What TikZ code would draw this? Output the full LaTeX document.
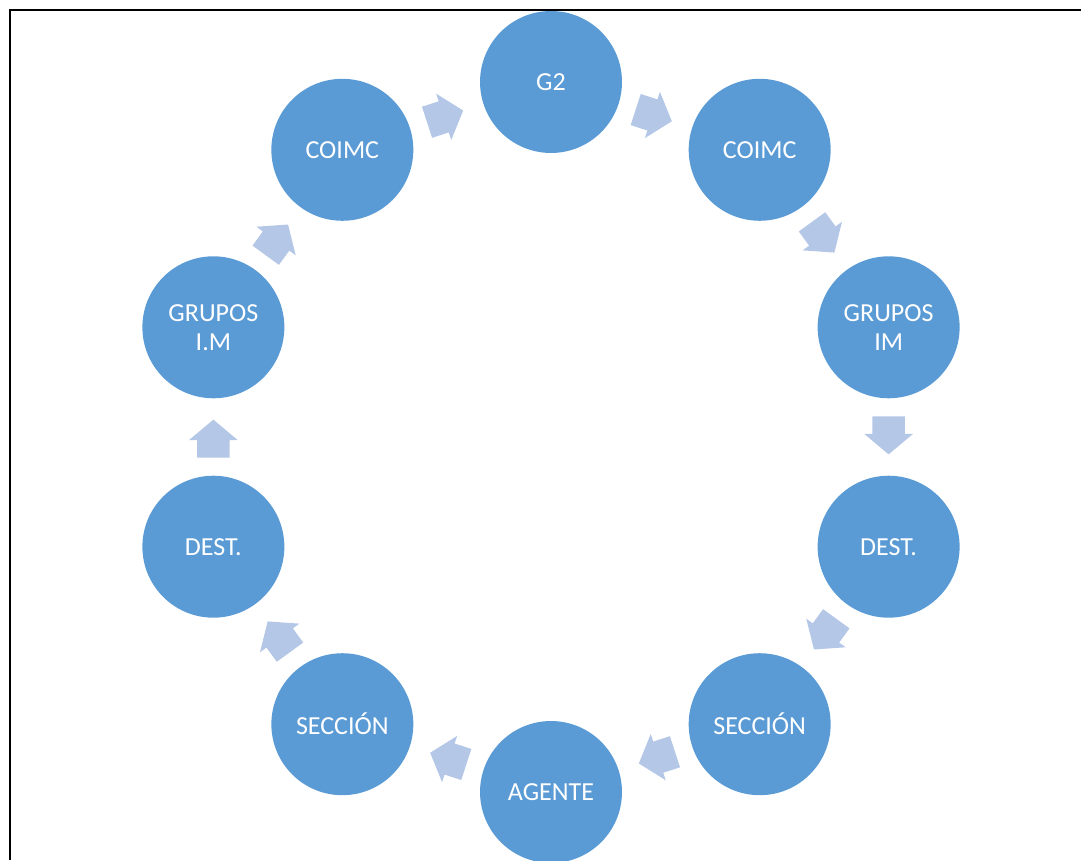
\documentclass[tikz,border=0pt]{standalone}
\usepackage{fontspec}
\setmainfont{Carlito}
\usetikzlibrary{shapes.arrows,calc}
\definecolor{circblue}{HTML}{5B9BD5}
\definecolor{arrowblue}{HTML}{B4C7E7}
\begin{document}
\begin{tikzpicture}[x=0.02cm,y=0.02cm,
  stage/.style={circle,fill=circblue,minimum size=2.84cm,inner sep=0pt,text=white,align=center,font=\fontsize{14.8}{16.5}\selectfont},
  flow/.style={single arrow,fill=arrowblue,minimum height=0.76cm,text height=0.32cm,text depth=0.32cm,text width=0pt,single arrow head extend=0.16cm,single arrow tip angle=100,inner sep=0pt,rotate=#1,xshift=-0.17cm}]
\useasboundingbox (0,0) rectangle (1081,860);
\draw [line width=0.05cm] (10,0) -- (10,850) -- (1081,850);
\coordinate(O) at (551,423);
% the ring of stages
\node[stage] (g2) at ($(O)+(90:355)$) {G2};
\node[stage] (coimcR) at ($(O)+(54:355)$) {COIMC};
\node[stage] (grupR) at ($(O)+(18:355)$) {GRUPOS\\IM};
\node[stage] (destR) at ($(O)+(-18:355)$) {DEST.};
\node[stage] (seccR) at ($(O)+(-54:355)$) {SECCIÓN};
\node[stage] (agente) at ($(O)+(-90:355)$) {AGENTE};
\node[stage] (seccL) at ($(O)+(-126:355)$) {SECCIÓN};
\node[stage] (destL) at ($(O)+(-162:355)$) {DEST.};
\node[stage] (grupL) at ($(O)+(162:355)$) {GRUPOS\\I.M};
\node[stage] (coimcL) at ($(O)+(126:355)$) {COIMC};
% arrows between them
\node[flow=-18] (a1) at ($(g2)!0.5!(coimcR)$) {};
\node[flow=-54] (a2) at ($(coimcR)!0.5!(grupR)$) {};
\node[flow=-90] (a3) at ($(grupR)!0.5!(destR)$) {};
\node[flow=-126] (a4) at ($(destR)!0.5!(seccR)$) {};
\node[flow=-162] (a5) at ($(seccR)!0.5!(agente)$) {};
\node[flow=162] (a6) at ($(agente)!0.5!(seccL)$) {};
\node[flow=126] (a7) at ($(seccL)!0.5!(destL)$) {};
\node[flow=90] (a8) at ($(destL)!0.5!(grupL)$) {};
\node[flow=54] (a9) at ($(grupL)!0.5!(coimcL)$) {};
\node[flow=18] (a10) at ($(coimcL)!0.5!(g2)$) {};
\end{tikzpicture}
\end{document}
